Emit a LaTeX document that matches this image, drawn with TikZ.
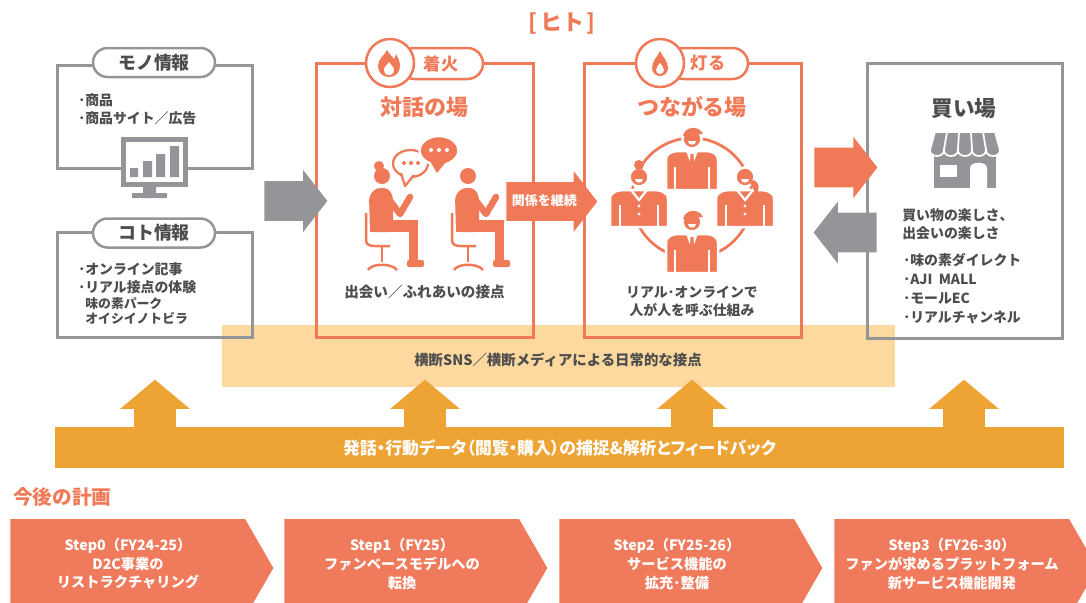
\documentclass[tikz,border=0pt]{standalone}
\usepackage{fontspec}
\setmainfont{Noto Sans CJK JP}
\newfontfamily\paltfont{Noto Sans CJK JP}[RawFeature=+palt]
\usepackage{tikz}
\usetikzlibrary{shapes.arrows, shapes.symbols, positioning, calc}

\definecolor{hiorange}{HTML}{F07A58}
\definecolor{stepfill}{HTML}{F07B5C}
\definecolor{keygray}{HTML}{939598}
\definecolor{textgray}{HTML}{4D4D4D}
\definecolor{bandfill}{HTML}{FDD9A0}
\definecolor{barfill}{HTML}{EDA434}

\newcommand{\pxu}{0.2mm}

\tikzset{
  flame/.pic={
    \fill[hiorange] (0,13) .. controls (-7,13) and (-11,8) .. (-11,2)
      .. controls (-11,-5) and (-5,-8) .. (-2,-14)
      .. controls (1,-9) and (3,-8) .. (5,-5)
      .. controls (6,-7) and (7,-8) .. (7,-10)
      .. controls (10,-5) and (11,-1) .. (11,2)
      .. controls (11,8) and (7,13) .. (0,13) -- cycle;
    \fill[white] (0,11) .. controls (-4,11) and (-5,8) .. (-5,6)
      .. controls (-5,3) and (-2,1) .. (0,-2)
      .. controls (2,1) and (5,3) .. (5,6)
      .. controls (5,8) and (4,11) .. (0,11) -- cycle;
  },
  drop/.pic={
    \fill[hiorange] (0,-13) .. controls (2,-8) and (8,-3) .. (8,4)
      .. controls (8,9) and (4,12) .. (0,12)
      .. controls (-4,12) and (-8,9) .. (-8,4)
      .. controls (-8,-3) and (-2,-8) .. (0,-13) -- cycle;
    \fill[white] (0,-1) .. controls (1,1) and (4,3) .. (4,6)
      .. controls (4,8) and (2,10) .. (0,10)
      .. controls (-2,10) and (-4,8) .. (-4,6)
      .. controls (-4,3) and (-1,1) .. (0,-1) -- cycle;
  },
  % seated figure facing right, head at the origin
  sitter/.pic={
    \fill[hiorange] (0,0) circle (8);
    \fill[hiorange, rounded corners=0.8mm] (-12,56) -- (-13,20) -- (-6,12) -- (6,12) -- (11,20) -- (11,56) -- cycle;
    \fill[hiorange] (-12,44) rectangle (36,56);
    \fill[hiorange] (27,50) rectangle (36,88);
    \fill[hiorange, rounded corners=0.4mm] (25,84) rectangle (42,91);
    \draw[hiorange, line width=1.3mm, line cap=round, line join=round] (6,22) -- (18,38) -- (28,21);
    \draw[hiorange, line width=0.5mm] (-16,37) -- (-16,64) .. controls (-16,69) and (-12,70) .. (-7,70) -- (8,70);
    \draw[hiorange, line width=0.5mm] (0,70) -- (0,86);
    \draw[hiorange, line width=0.5mm] (-14,94) .. controls (-10,87) and (10,87) .. (15,94);
  },
  suitman/.pic={
    \filldraw[fill=hiorange, draw=white, line width=0.5mm] (0,0) circle (9.5);
    \fill[hiorange] (-9,-3) .. controls (-7,-13) and (7,-14) .. (11,-5) -- cycle;
    \fill[white] (-4,2) .. controls (-4,7) and (4,7) .. (4,2) -- cycle;
    \filldraw[fill=hiorange, draw=white, line width=0.5mm] (-26,51) -- (-26,21)
      .. controls (-26,14) and (-20,12) .. (-12,12) -- (12,12)
      .. controls (20,12) and (26,14) .. (26,21) -- (26,51) -- cycle;
    \draw[white, line width=0.5mm] (-17,28) -- (-17,51) (17,28) -- (17,51);
    \fill[white] (-6,12) -- (0,28) -- (6,12) -- cycle;
    \fill[hiorange] (-1.5,15) -- (1.5,15) -- (2,25) -- (0,29) -- (-2,25) -- cycle;
  },
  suitwoman/.pic={
    \filldraw[fill=hiorange, draw=white, line width=0.5mm] (0,0) circle (9.5);
    \fill[white] (-4,2) .. controls (-4,7) and (4,7) .. (4,2) -- cycle;
    \filldraw[fill=hiorange, draw=white, line width=0.5mm] (-29,50) -- (-29,22)
      .. controls (-29,15) and (-22,13) .. (-13,13) -- (13,13)
      .. controls (22,13) and (29,15) .. (29,22) -- (29,50) -- cycle;
    \draw[white, line width=0.5mm] (-19,28) -- (-19,50) (19,28) -- (19,50);
    \draw[white, line width=0.45mm] (-8,13) -- (0,23) -- (8,13);
    \fill[white] (0,29) circle (1.6) (0,37) circle (1.6);
  }
}

\begin{document}
\begin{tikzpicture}[x=0.2mm, y=-0.2mm,
    graybox/.style={draw=keygray, line width=0.6mm, inner sep=0pt},
    hibox/.style={draw=hiorange, line width=0.6mm, inner sep=0pt},
    graypill/.style={draw=keygray, fill=white, line width=0.5mm, rounded corners=2.9mm,
      minimum width=122*\pxu, minimum height=29*\pxu, text=textgray,
      font=\bfseries\fontsize{10.2}{12}\selectfont},
    hipill/.style={draw=hiorange, fill=white, line width=0.5mm, rounded corners=3.1mm,
      minimum height=31*\pxu, text=hiorange, font=\bfseries\fontsize{9.8}{12}\selectfont},
    badge/.style={circle, draw=hiorange, fill=white, line width=0.5mm, minimum size=48*\pxu, inner sep=0pt},
    title/.style={text=hiorange, font=\bfseries\fontsize{12.5}{14}\selectfont},
    body/.style={text=textgray, font=\bfseries\fontsize{7.9}{10.3}\selectfont, align=left, inner sep=0pt},
    blockarrow/.style={single arrow, inner xsep=0pt, inner ysep=19.5*\pxu, text height=0pt, text depth=0pt,
      minimum height=63*\pxu, single arrow head extend=11*\pxu, single arrow tip angle=104},
    uparrow/.style={single arrow, fill=barfill, inner ysep=0pt, inner xsep=20.5*\pxu, text height=0pt,
      text depth=0pt, minimum height=50*\pxu, single arrow head extend=14*\pxu, single arrow tip angle=100,
      shape border rotate=90},
    stepbox/.style={signal, signal to=east, signal pointer angle=120, fill=stepfill,
      minimum width=263*\pxu, minimum height=98*\pxu, inner sep=0pt},
    steptext/.style={text=white, font=\bfseries\fontsize{8.1}{10.6}\selectfont, align=center, inner sep=0pt}]

  \useasboundingbox (0,0) rectangle (1086,602);
  \clip (0,0) rectangle (1086,602);

  \node[text=hiorange, font=\bfseries\fontsize{12.5}{14}\selectfont] (hito) at (562,24) {[\kern1.5pt ヒト\kern1.5pt ]};

  % shared touch point band
  \node[fill=bandfill, minimum width=673*\pxu, minimum height=62*\pxu, inner sep=0pt] (band) at (558.5,356) {};
  \node[body, font=\bfseries\fontsize{8.2}{10}\selectfont] (bandtxt) at (558,360) {横断SNS／横断メディアによる日常的な接点};

  % left column
  \node[graybox, minimum width=195*\pxu, minimum height=103*\pxu] (mono) at (154.5,116.5) {};
  \node[graypill] (monopill) at (154,62.5) {モノ情報};
  \node[body, anchor=west] (monolist) at (78,109) {･商品\\･商品サイト／広告};
  \fill[keygray] (121,137) rectangle (188,187);
  \fill[white] (126,142) rectangle (183,182);
  \fill[keygray] (130,168) rectangle (138,177) (143,161) rectangle (152,177)
    (156,154) rectangle (165,177) (170,146) rectangle (179,177);
  \fill[keygray] (143,187) rectangle (156,193) (132,193) rectangle (167,198);

  \node[graybox, minimum width=195*\pxu, minimum height=105*\pxu] (koto) at (154.5,284.5) {};
  \node[graypill] (kotopill) at (154,233) {コト情報};
  \node[body, anchor=west] (kotolist) at (78,278) {･オンライン記事\\･リアル接点の体験};
  \node[body, anchor=west, font=\bfseries\fontsize{7.3}{8.1}\selectfont] (kotosub) at (85,311) {味の素パーク\\オイシイノトビラ};

  % dialogue place
  \node[hibox, minimum width=217*\pxu, minimum height=274*\pxu] (taiwa) at (424.5,200) {};
  \node[hipill, minimum width=84*\pxu] (taiwapill) at (441,63.5) {着火};
  \node[badge] (taiwabadge) at (390,63) {};
  \pic at (389,64) {flame};
  \node[title] (taiwattl) at (424.5,107) {対話の場};
  \pic at (382,176) {sitter};
  \fill[hiorange] (379,166) circle (5);
  \begin{scope}[shift={(850,0)}, xscale=-1]
    \pic at (382,176) {sitter};
  \end{scope}
  \filldraw[fill=white, draw=hiorange, line width=0.45mm] (410.5,163.5) ellipse (17.5 and 13.5);
  \fill[white] (402,172) -- (405,185) -- (413,174) -- cycle;
  \draw[hiorange, line width=0.45mm, line join=round] (401,173) -- (405,186) -- (414,175);
  \fill[hiorange] (404,163) circle (2) (411,163) circle (2) (418,163) circle (2);
  \filldraw[fill=hiorange, draw=white, line width=0.5mm] (439,150.5) ellipse (19.5 and 14.5);
  \fill[hiorange] (430,161) -- (437,173) -- (446,162) -- cycle;
  \fill[white] (431,150) circle (2) (439,150) circle (2) (447,150) circle (2);
  \node[body, font=\bfseries\fontsize{8.3}{10}\selectfont] (taiwatxt) at (424.5,292) {出会い／ふれあいの接点};

  % connecting place
  \node[hibox, minimum width=217*\pxu, minimum height=274*\pxu] (tsuna) at (692.5,200) {};
  \node[hipill, minimum width=80*\pxu] (tsunapill) at (708,63.5) {灯る};
  \node[badge] (tsunabadge) at (660,63) {};
  \pic at (660,64) {drop};
  \node[title] (tsunattl) at (692,107) {つながる場};
  \draw[hiorange, line width=0.55mm] (692,198) circle (60);
  \pic at (692,139) {suitman};
  \pic at (639,177) {suitwoman};
  \fill[hiorange] (639,165) circle (5);
  \pic at (745,177) {suitwoman};
  \fill[hiorange] (753,180) .. controls (760,182) and (760,190) .. (756,194) .. controls (753,189) and (752,185) .. (750,183) -- cycle;
  \pic at (692,222) {suitman};
  \node[body, align=center] (tsunatxt) at (692,301) {リアル･オンラインで\\人が人を呼ぶ仕組み};

  % buying place
  \node[graybox, minimum width=195*\pxu, minimum height=275*\pxu] (kaiba) at (964.5,200.5) {};
  \node[text=textgray, font=\bfseries\fontsize{12.3}{14}\selectfont] (kaibattl) at (964,108) {買い場};
  \fill[keygray] (934,154) rectangle (996,188);
  \filldraw[fill=keygray, draw=white, line width=0.35mm] (935,132) -- (995,132) -- (1000,150)
    .. controls (1000,158) and (986,158) .. (986,150)
    .. controls (986,158) and (972,158) .. (972,150)
    .. controls (972,158) and (958,158) .. (958,150)
    .. controls (958,158) and (944,158) .. (944,150)
    .. controls (944,158) and (930,158) .. (930,150) -- cycle;
  \draw[white, line width=0.35mm] (947,132) -- (944,150) (959,132) -- (958,150)
    (971,132) -- (972,150) (983,132) -- (986,150);
  \fill[white] (940,165) rectangle (957,177);
  \fill[white] (970,188) -- (970,168) .. controls (970,161) and (987,161) .. (987,168) -- (987,188) -- cycle;
  \node[body, anchor=west] (kaibafun) at (902,224) {買い物の楽しさ、\\出会いの楽しさ};
  \node[body, anchor=west, font=\bfseries\fontsize{7.9}{10.8}\selectfont] (kaibalist) at (903,288.5)
    {･味の素ダイレクト\\･AJI\ \ MALL\\･モールEC\\･リアルチャンネル};

  % flows between the places
  \node[blockarrow, fill=keygray, anchor=tail] (monoin) at (264,201) {};
  \node[blockarrow, fill=hiorange, minimum height=91*\pxu, anchor=tail, text=white,
    text height=1.8mm, text depth=0.2mm, inner ysep=2.8mm,
    font=\bfseries\fontsize{7.4}{9}\selectfont] (keizoku) at (506,201.5) {関係を継続};
  \node[blockarrow, fill=hiorange, anchor=tail] (tokaiba) at (814,167.5) {};
  \node[blockarrow, fill=keygray, anchor=tail, shape border rotate=180] (fromkaiba) at (877,232.5) {};

  % data feedback
  \node[fill=barfill, minimum width=1009*\pxu, minimum height=41*\pxu, inner sep=0pt, text=white,
    font=\paltfont\bfseries\fontsize{9.6}{10}\selectfont] (databar) at (559.5,447.5)
    {発話・行動データ（閲覧・購入）の捕捉\&解析とフィードバック};
  \foreach \x/\n in {155/upa, 425/upb, 692/upc, 964/upd}
    \node[uparrow, anchor=tail] (\n) at (\x,430) {};

  % plan
  \node[anchor=west, text=hiorange, font=\bfseries\fontsize{11.2}{13}\selectfont] (plan) at (7,497) {今後の計画};
  \node[stepbox, anchor=west] (s0) at (10,568) {};
  \node[stepbox, anchor=west] (s1) at (284,568) {};
  \node[stepbox, anchor=west] (s2) at (559,568) {};
  \node[stepbox, anchor=west] (s3) at (834,568) {};
  \node[steptext] (t0) at (128,564) {Step0（FY24-25）\\D2C事業の\\リストラクチャリング};
  \node[steptext] (t1) at (402,564) {Step1（FY25）\\ファンベースモデルへの\\転換};
  \node[steptext] (t2) at (677,564) {Step2（FY25-26）\\サービス機能の\\拡充･整備};
  \node[steptext] (t3) at (952,564) {Step3（FY26-30）\\ファンが求めるプラットフォーム\\新サービス機能開発};
\end{tikzpicture}
\end{document}
